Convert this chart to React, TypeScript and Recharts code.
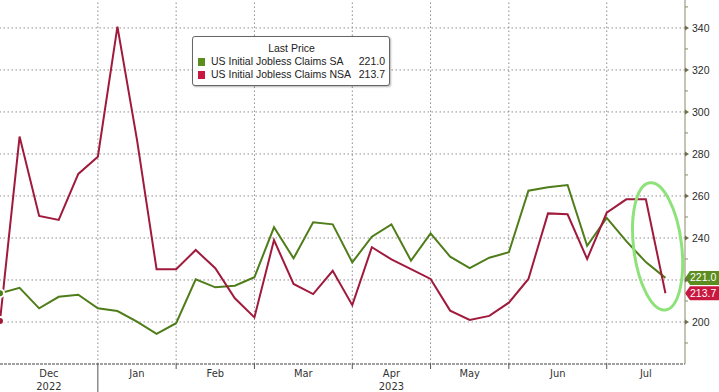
import { LineChart, Line, XAxis, YAxis, ReferenceLine, ReferenceDot, Legend } from 'recharts';

// weekly initial jobless claims, thousands (week ending)
const weeks = [
  '2022-11-26', '2022-12-03', '2022-12-10', '2022-12-17', '2022-12-24', '2022-12-31',
  '2023-01-07', '2023-01-14', '2023-01-21', '2023-01-28', '2023-02-04', '2023-02-11',
  '2023-02-18', '2023-02-25', '2023-03-04', '2023-03-11', '2023-03-18', '2023-03-25',
  '2023-04-01', '2023-04-08', '2023-04-15', '2023-04-22', '2023-04-29', '2023-05-06',
  '2023-05-13', '2023-05-20', '2023-05-27', '2023-06-03', '2023-06-10', '2023-06-17',
  '2023-06-24', '2023-07-01', '2023-07-08', '2023-07-15', '2023-07-22',
];
const saClaims = [
  213.7, 216.3, 206.5, 212.0, 213.0, 206.5, 205.2, 200.2, 194.3, 199.4, 220.3, 216.5,
  217.3, 221.3, 245.1, 230.3, 247.5, 246.5, 228.4, 240.6, 246.5, 229.2, 242.2, 231.1,
  225.6, 230.6, 233.2, 262.5, 264.1, 265.2, 236.3, 249.6, 238.5, 228.5, 221.0,
];
const nsaClaims = [
  200.5, 288.3, 250.5, 248.6, 270.5, 278.7, 340.6, 286.7, 225.1, 225.1, 234.3, 225.6,
  211.3, 202.2, 239.0, 218.1, 213.3, 224.4, 208.0, 235.6, 229.8, 225.2, 220.5, 205.4,
  201.0, 202.9, 209.2, 220.5, 251.7, 251.3, 230.0, 252.0, 258.4, 258.4, 213.7,
];

const monthBreaks = [5, 9, 13, 18, 22, 26, 31];
const monthTicks = [2.5, 7, 11, 15.5, 20, 24, 28.5, 33];
const monthLabels = ['Dec', 'Jan', 'Feb', 'Mar', 'Apr', 'May', 'Jun', 'Jul'];
const yearLabels = ['2022', '', '', '', '2023', '', '', ''];
const yearBreak = 5;
const majorTicks = [200, 220, 240, 260, 280, 300, 320, 340];
const yTicks = [190, 200, 210, 220, 230, 240, 250, 260, 270, 280, 290, 300, 310, 320, 330, 340, 350];
const coveredLabels = [220]; // hidden behind the last-value tags
const seriesOrder = ['sa', 'nsa'];

const SA_LINE = '#4f7d1a';
const NSA_LINE = '#a01a3c';
const SA_TAG = '#5b8e1f';
const NSA_TAG = '#c8183f';

const data = weeks.map((week, i) => ({ i, week, sa: saClaims[i], nsa: nsaClaims[i] }));
const last = data[data.length - 1];

const axisFont = '"Liberation Sans Narrow", "DejaVu Sans Condensed", sans-serif';
const plainFont = '"Liberation Sans", Arial, sans-serif';

function YTick({ x, y, payload }: any) {
  const v = payload.value;
  if (majorTicks.includes(v)) {
    return (
      <g>
        <path d={`M${x},${y - 2.5}L${x + 4},${y}L${x},${y + 2.5}Z`} fill="#6e6e4c" />
        {!coveredLabels.includes(v) && (
          <text x={x + 7} y={y} dy={4} fontSize={10.5} fontFamily={plainFont} fill="#2b2b2b">{v}</text>
        )}
      </g>
    );
  }
  return <line x1={x} y1={y} x2={x + 3} y2={y} stroke="#8a8a66" />;
}

function XTick({ x, y, payload }: any) {
  const v = payload.value;
  if (monthBreaks.includes(v)) {
    return <line x1={x} x2={x} y1={y} y2={y + (v === yearBreak ? 28 : 5)} stroke="#555" />;
  }
  const k = monthTicks.indexOf(v);
  return (
    <g fontFamily={axisFont} fontSize={11} fill="#333" textAnchor="middle">
      <text x={x} y={y + 13}>{monthLabels[k]}</text>
      {yearLabels[k] && <text x={x} y={y + 25.5}>{yearLabels[k]}</text>}
    </g>
  );
}

function ValueTag({ viewBox, text, color }: any) {
  const x0 = viewBox.x + viewBox.width;
  const y = viewBox.y;
  const h = 7;
  return (
    <g>
      <path d={`M${x0},${y}L${x0 + 5},${y - h}L${x0 + 40},${y - h}L${x0 + 40},${y + h}L${x0 + 5},${y + h}Z`} fill={color} />
      <text x={x0 + 5} y={y} dy={3.5} fontSize={10.5} fontFamily={plainFont} fill="#fff">{text}</text>
    </g>
  );
}

function Highlight({ cx, cy }: any) {
  return (
    <ellipse cx={cx} cy={cy} rx={24} ry={64} fill="none" stroke="#8ee27a" strokeWidth={3}
      transform={`rotate(-7 ${cx} ${cy})`} />
  );
}

function LegendBox({ payload }: any) {
  const values: Record<string, number> = { sa: last.sa, nsa: last.nsa };
  const items = [...(payload || [])].sort(
    (a: any, b: any) => seriesOrder.indexOf(a.dataKey) - seriesOrder.indexOf(b.dataKey),
  );
  return (
    <div style={{
      background: '#fff', border: '1px solid #666', borderRadius: 3, boxShadow: '1px 1px 2px rgba(0,0,0,0.3)',
      padding: '5px 4px 4px 5px', fontFamily: plainFont, fontSize: 10.5, lineHeight: '13px', color: '#222',
      whiteSpace: 'nowrap', boxSizing: 'border-box', width: 198,
    }}>
      <div style={{ textAlign: 'center' }}>Last Price</div>
      {items.map((p: any) => (
        <div key={p.dataKey} style={{ display: 'flex', alignItems: 'center' }}>
          <span style={{ width: 7, height: 8, flex: 'none', background: p.dataKey === 'sa' ? SA_TAG : NSA_TAG, marginRight: 6 }} />
          <span style={{ flex: 1 }}>{p.value}</span>
          <span style={{ marginLeft: 4 }}>{values[p.dataKey].toFixed(1)}</span>
        </div>
      ))}
    </div>
  );
}

export default function App() {
  return (
    <div style={{ width: 719, height: 392, background: '#fff' }}>
      <style>{'body{margin:0}'}</style>
      <LineChart width={719} height={392} data={data} margin={{ top: 0, right: 0, left: 0, bottom: 0 }}>
        <XAxis
          dataKey="i" type="number" domain={[0, 35]} ticks={[...monthBreaks, ...monthTicks]} interval={0}
          height={28} tickSize={0} tickMargin={0} tick={<XTick />}
          axisLine={{ stroke: '#444', strokeDasharray: '3 1' }}
        />
        <YAxis
          orientation="right" domain={[180, 353.3]} ticks={yTicks} interval={0} allowDataOverflow
          width={34} tickSize={0} tickMargin={0} tick={<YTick />} axisLine={{ stroke: '#8a8a66' }}
        />
        {majorTicks.map(t => (
          <ReferenceLine key={'h' + t} y={t} stroke="#8c8c8c" strokeDasharray="1.5 2.5" />
        ))}
        {monthBreaks.map(b => (
          <ReferenceLine key={'v' + b} x={b} stroke="#8c8c8c" strokeDasharray="1.5 2.5" />
        ))}
        <Legend
          verticalAlign="middle" align="center" layout="horizontal"
          wrapperStyle={{ left: 192, top: 36, width: 198 }}
          content={<LegendBox />}
        />
        <Line name="US Initial Jobless Claims SA" dataKey="sa" type="linear" stroke={SA_LINE} strokeWidth={2}
          dot={false} isAnimationActive={false} />
        <Line name="US Initial Jobless Claims NSA" dataKey="nsa" type="linear" stroke={NSA_LINE} strokeWidth={2}
          dot={false} isAnimationActive={false} />
        <ReferenceLine y={last.sa} stroke="none" label={<ValueTag text={last.sa.toFixed(1)} color={SA_TAG} />} />
        <ReferenceLine y={last.nsa} stroke="none" label={<ValueTag text={last.nsa.toFixed(1)} color={NSA_TAG} />} />
        <ReferenceDot x={33.6} y={236} r={0} ifOverflow="visible" shape={<Highlight />} />
      </LineChart>
    </div>
  );
}
